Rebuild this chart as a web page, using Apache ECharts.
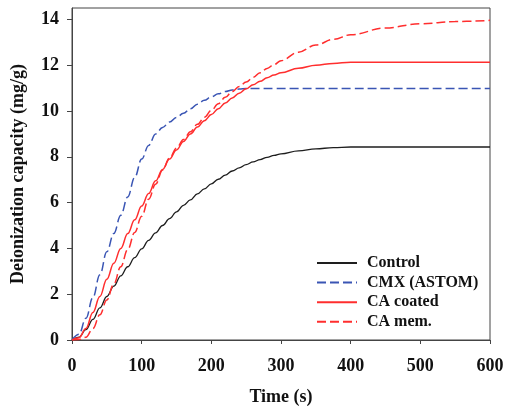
<!DOCTYPE html>
<html>
<head>
<meta charset="utf-8">
<script src="https://cdn.jsdelivr.net/npm/echarts@6/dist/echarts.min.js"></script>
<style>
html, body { margin: 0; padding: 0; background: #fff; }
#chart_id { width: 506px; height: 407px; }
</style>
</head>
<body>
<div id="chart_id"></div>
<script>
// time (s)
var time_data = [0, 10, 20, 30, 40, 50, 60, 70, 80, 90, 100, 110, 120, 130, 140, 150, 160, 170, 180, 190, 200,
	210, 220, 230, 240, 250, 260, 270, 280, 290, 300, 325, 350, 375, 400, 450, 500, 550, 600];
// deionization capacity (mg/g)
var control_data = [0, 0.12, 0.45, 0.9, 1.4, 1.9, 2.35, 2.8, 3.2, 3.6, 3.98, 4.35, 4.68, 5.0, 5.3, 5.6, 5.88, 6.12, 6.38, 6.6, 6.82,
	7.02, 7.2, 7.38, 7.52, 7.66, 7.78, 7.88, 7.98, 8.06, 8.13, 8.26, 8.35, 8.4, 8.43, 8.43, 8.43, 8.43, 8.43];
var cmx_data = [0, 0.25, 0.95, 1.85, 2.85, 3.85, 4.65, 5.45, 6.25, 7.1, 7.9, 8.5, 9.0, 9.28, 9.52, 9.72, 9.9, 10.1, 10.3, 10.47, 10.62,
	10.75, 10.85, 10.92, 10.96, 10.98, 10.98, 10.98, 10.98, 10.98, 10.98, 10.98, 10.98, 10.98, 10.98, 10.98, 10.98, 10.98, 10.98];
var ca_coated_data = [0, 0.1, 0.5, 1.2, 1.9, 2.65, 3.35, 4.0, 4.65, 5.25, 5.85, 6.4, 6.95, 7.45, 7.9, 8.3, 8.67, 9.0, 9.3, 9.58, 9.85,
	10.1, 10.35, 10.57, 10.78, 10.97, 11.15, 11.3, 11.45, 11.57, 11.67, 11.87, 12.0, 12.08, 12.13, 12.13, 12.13, 12.13, 12.13];
var ca_mem_data = [0, 0.02, 0.12, 0.5, 1.1, 1.75, 2.45, 3.2, 3.95, 4.7, 5.4, 6.15, 6.8, 7.42, 7.95, 8.38, 8.76, 9.1, 9.42, 9.73, 10.03,
	10.32, 10.6, 10.85, 11.07, 11.27, 11.47, 11.67, 11.86, 12.03, 12.2, 12.57, 12.88, 13.13, 13.33, 13.63, 13.81, 13.91, 13.96];
var series_names = ['Control', 'CMX (ASTOM)', 'CA coated', 'CA mem.'];
var y_ticks = [0, 2, 4, 6, 8, 10, 12, 14];

function pairs(values) {
	var out = [];
	for (var i = 0; i < time_data.length; i++) {
		out.push([time_data[i], values[i]]);
	}
	return out;
}

function makeSeries(name, values, color, type, width) {
	return {
		name : name,
		type : 'line',
		data : pairs(values),
		symbol : 'none',
		smooth : 0.4,
		smoothMonotone : 'x',
		lineStyle : {
			color : color,
			width : width,
			type : type
		},
		itemStyle : { color : color }
	};
}

var fontFamily = '"Liberation Serif", "Times New Roman", serif';
var axisColor = '#444';

var myChart = echarts.init(document.getElementById('chart_id'));

var option = {
	animation : false,
	grid : {
		left : 72,
		right : 16,
		top : 8,
		bottom : 67,
		outerBoundsMode : 'none',
		show : true,
		borderColor : axisColor,
		borderWidth : 1
	},
	legend : {
		data : series_names,
		orient : 'vertical',
		left : 316,
		top : 255,
		padding : 0,
		itemWidth : 40,
		itemHeight : 14,
		itemGap : 3.6,
		itemStyle : { opacity : 0 },
		textStyle : {
			fontFamily : fontFamily,
			fontWeight : 'bold',
			fontSize : 16,
			lineHeight : 14,
			color : '#111',
			padding : [0, 0, 0, 5]
		}
	},
	xAxis : {
		type : 'value',
		min : 0,
		max : 600,
		interval : 100,
		name : 'Time (s)',
		nameLocation : 'middle',
		nameGap : 48,
		nameTextStyle : {
			fontFamily : fontFamily,
			fontWeight : 'bold',
			fontSize : 18,
			color : '#111'
		},
		axisLine : { show : true, lineStyle : { color : axisColor, width : 1 } },
		axisTick : { show : true, inside : false, length : 4, lineStyle : { color : axisColor } },
		axisLabel : {
			margin : 17,
			fontFamily : fontFamily,
			fontWeight : 'bold',
			fontSize : 18,
			color : '#111'
		},
		splitLine : { show : false }
	},
	yAxis : {
		type : 'value',
		min : 0,
		max : 14.5,
		name : 'Deionization capacity (mg/g)',
		nameLocation : 'middle',
		nameGap : 45,
		nameTextStyle : {
			fontFamily : fontFamily,
			fontWeight : 'bold',
			fontSize : 18,
			color : '#111'
		},
		axisLine : { show : true, lineStyle : { color : axisColor, width : 1 } },
		axisTick : { show : true, inside : false, length : 5, customValues : y_ticks, lineStyle : { color : axisColor } },
		axisLabel : {
			margin : 13,
			customValues : y_ticks,
			fontFamily : fontFamily,
			fontWeight : 'bold',
			fontSize : 18,
			color : '#111'
		},
		splitLine : { show : false }
	},
	series : [
		makeSeries(series_names[0], control_data, '#1e1e1e', 'solid', 1.3),
		makeSeries(series_names[1], cmx_data, '#3a55b4', [9, 4], 1.5),
		makeSeries(series_names[2], ca_coated_data, '#ff2e2e', 'solid', 1.5),
		makeSeries(series_names[3], ca_mem_data, '#ff2e2e', [9, 4], 1.5)
	]
};

myChart.setOption(option);
</script>
</body>
</html>
